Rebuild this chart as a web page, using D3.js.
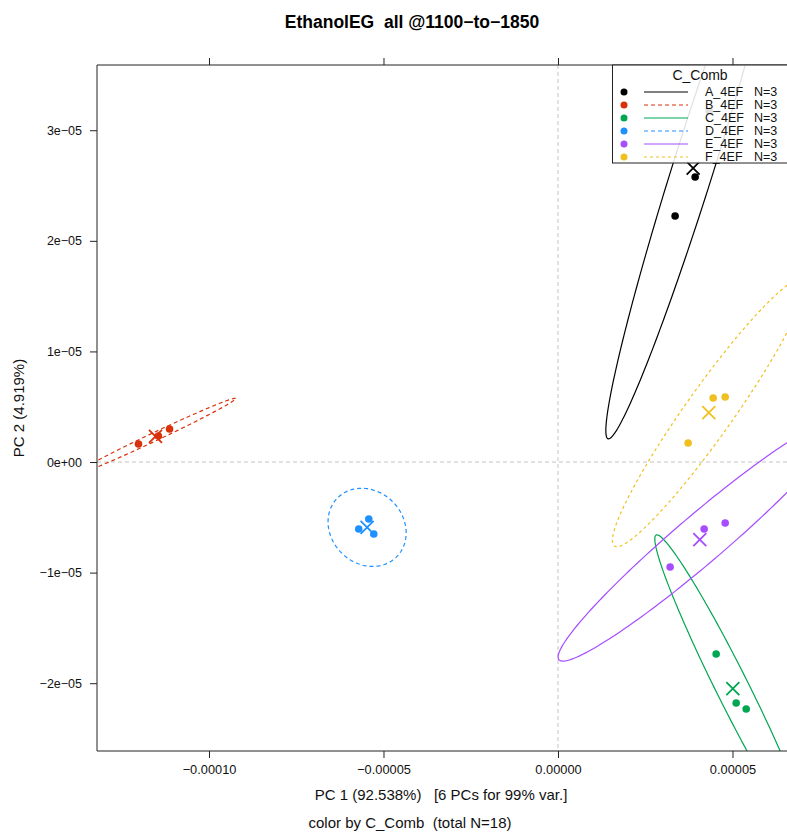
<!DOCTYPE html>
<html>
<head>
<meta charset="utf-8">
<script src="https://cdn.jsdelivr.net/npm/d3@7"></script>
<style>
  body { margin: 0; background: #fff; }
  svg { font-family: "Liberation Sans", Arial, sans-serif; }
</style>
</head>
<body>
<div id="chart"></div>
<script>
// groups and scores (PC1, PC2)
const groups = ["A_4EF", "B_4EF", "C_4EF", "D_4EF", "E_4EF", "F_4EF"];
const groupColors = ["#000000", "#d9310b", "#00a651", "#1e90ff", "#a64dff", "#f0c020"];
const groupDash = [null, "4,3", null, "4,3", null, "3,3"];
const pc1 = [
    [3.930e-5, 3.356e-5, 4.332e-5],
    [-12.02e-5, -11.45e-5, -11.13e-5],
    [4.532e-5, 5.106e-5, 5.393e-5],
    [-5.709e-5, -5.422e-5, -5.278e-5],
    [4.188e-5, 4.791e-5, 3.213e-5],
    [4.446e-5, 4.791e-5, 3.729e-5]
];
const pc2 = [
    [2.577e-5, 2.224e-5, 3.174e-5],
    [0.163e-5, 0.235e-5, 0.298e-5],
    [-1.736e-5, -2.179e-5, -2.233e-5],
    [-0.606e-5, -0.515e-5, -0.651e-5],
    [-0.606e-5, -0.552e-5, -0.949e-5],
    [0.579e-5, 0.588e-5, 0.172e-5]
];
const xTicks = [-0.0001, -0.00005, 0, 0.00005];
const xTickLabels = ["\u22120.00010", "\u22120.00005", "0.00000", "0.00005"];
const yTicks = [-2e-5, -1e-5, 0, 1e-5, 2e-5, 3e-5];
const yTickLabels = ["\u22122e\u221205", "\u22121e\u221205", "0e+00", "1e\u221205", "2e\u221205", "3e\u221205"];
const xRange = [-13.209e-5, 6.648e-5];
const yRange = [-2.613e-5, 3.590e-5];
const ellipseScale = 5.1;

const W = 787, H = 834;
const margin = { top: 65, left: 97 };
const width = 693, height = 686;

const svg = d3.select("#chart").append("svg")
    .attr("width", W).attr("height", H);

const x = d3.scaleLinear().domain(xRange).range([margin.left, margin.left + width]);
const y = d3.scaleLinear().domain(yRange).range([margin.top + height, margin.top]);

svg.append("clipPath").attr("id", "clip")
    .append("rect")
    .attr("x", margin.left).attr("y", margin.top)
    .attr("width", width).attr("height", height);

const plot = svg.append("g").attr("clip-path", "url(#clip)");

// zero reference lines
plot.append("line")
    .attr("x1", x(0)).attr("x2", x(0))
    .attr("y1", margin.top).attr("y2", margin.top + height)
    .attr("stroke", "#c4c4c4").attr("stroke-dasharray", "4,3");
plot.append("line")
    .attr("x1", margin.left).attr("x2", margin.left + width)
    .attr("y1", y(0)).attr("y2", y(0))
    .attr("stroke", "#c4c4c4").attr("stroke-dasharray", "4,3");

// data ellipse from the covariance of each group
function ellipsePath(xs, ys) {
    const n = xs.length;
    const mx = d3.mean(xs), my = d3.mean(ys);
    let sxx = 0, syy = 0, sxy = 0;
    for (let i = 0; i < n; i++) {
        sxx += (xs[i] - mx) ** 2;
        syy += (ys[i] - my) ** 2;
        sxy += (xs[i] - mx) * (ys[i] - my);
    }
    sxx /= n - 1; syy /= n - 1; sxy /= n - 1;
    // cholesky factor of the covariance
    const l11 = Math.sqrt(sxx);
    const l21 = sxy / l11;
    const l22 = Math.sqrt(Math.max(syy - l21 * l21, 0));
    const pts = d3.range(0, 361, 2).map(a => {
        const t = a * Math.PI / 180;
        const u = Math.cos(t) * ellipseScale, v = Math.sin(t) * ellipseScale;
        return [x(mx + l11 * u), y(my + l21 * u + l22 * v)];
    });
    return d3.line()(pts) + "Z";
}

groups.forEach((g, i) => {
    plot.append("path")
        .attr("d", ellipsePath(pc1[i], pc2[i]))
        .attr("fill", "none")
        .attr("stroke", groupColors[i])
        .attr("stroke-width", 1.2)
        .attr("stroke-dasharray", groupDash[i]);
});

groups.forEach((g, i) => {
    const pts = pc1[i].map((v, j) => [v, pc2[i][j]]);
    plot.selectAll(null).data(pts).enter().append("circle")
        .attr("cx", d => x(d[0])).attr("cy", d => y(d[1]))
        .attr("r", 3.8).attr("fill", groupColors[i]);
    const cx = x(d3.mean(pc1[i])), cy = y(d3.mean(pc2[i]));
    const s = 6.5;
    plot.append("path")
        .attr("d", `M${cx - s},${cy - s}L${cx + s},${cy + s}M${cx - s},${cy + s}L${cx + s},${cy - s}`)
        .attr("stroke", groupColors[i]).attr("stroke-width", 1.8).attr("fill", "none");
});

// frame
const frame = svg.append("g").attr("stroke", "#222").attr("fill", "none");
frame.append("line").attr("x1", margin.left).attr("x2", margin.left + width)
    .attr("y1", margin.top).attr("y2", margin.top);
frame.append("line").attr("x1", margin.left).attr("x2", margin.left + width)
    .attr("y1", margin.top + height).attr("y2", margin.top + height);
frame.append("line").attr("x1", margin.left).attr("x2", margin.left)
    .attr("y1", margin.top).attr("y2", margin.top + height);

// axes
svg.append("g")
    .attr("transform", `translate(0,${margin.top + height})`)
    .call(d3.axisBottom(x).tickValues(xTicks).tickFormat((d, i) => xTickLabels[i]).tickSize(7).tickPadding(7))
    .call(g => g.select(".domain").remove())
    .call(g => g.selectAll("text").attr("font-size", 12.8).attr("fill", "#111").attr("font-family", null))
    .call(g => g.selectAll("line").attr("stroke", "#222"));

svg.append("g")
    .attr("transform", `translate(0,${margin.top})`)
    .call(d3.axisTop(x).tickValues(xTicks).tickFormat("").tickSize(7))
    .call(g => g.select(".domain").remove())
    .call(g => g.selectAll("line").attr("stroke", "#222"));

svg.append("g")
    .attr("transform", `translate(${margin.left},0)`)
    .call(d3.axisLeft(y).tickValues(yTicks).tickFormat((d, i) => yTickLabels[i]).tickSize(7).tickPadding(8))
    .call(g => g.select(".domain").remove())
    .call(g => g.selectAll("text").attr("font-size", 12.5).attr("fill", "#111").attr("font-family", null))
    .call(g => g.selectAll("line").attr("stroke", "#222"));

// legend
const lg = svg.append("g");
lg.append("rect")
    .attr("x", 612.5).attr("y", margin.top).attr("width", 200).attr("height", 98)
    .attr("fill", "#fff").attr("fill-opacity", 0.88)
    .attr("stroke", "#222");
lg.append("text").attr("x", 700).attr("y", 79.5)
    .attr("text-anchor", "middle").attr("font-size", 14).attr("fill", "#111")
    .text("C_Comb");
groups.forEach((g, i) => {
    const ry = 92 + i * 13;
    lg.append("circle").attr("cx", 624).attr("cy", ry).attr("r", 3.5).attr("fill", groupColors[i]);
    lg.append("line").attr("x1", 644).attr("x2", 688).attr("y1", ry).attr("y2", ry)
        .attr("stroke", groupColors[i]).attr("stroke-dasharray", groupDash[i]);
    lg.append("text").attr("x", 705).attr("y", ry + 4.3).attr("font-size", 12.5).attr("fill", "#111")
        .text(g);
    lg.append("text").attr("x", 754).attr("y", ry + 4.3).attr("font-size", 12.5).attr("fill", "#111")
        .text("N=" + pc1[i].length);
});

// titles
svg.append("text").attr("x", 412).attr("y", 28)
    .attr("text-anchor", "middle").attr("font-size", 17.5).attr("font-weight", "bold")
    .style("white-space", "pre")
    .text("EthanolEG  all @1100\u2212to\u22121850");
svg.append("text").attr("x", 441).attr("y", 800)
    .attr("text-anchor", "middle").attr("font-size", 15).attr("fill", "#111")
    .style("white-space", "pre")
    .text("PC 1 (92.538%)   [6 PCs for 99% var.]");
svg.append("text").attr("x", 410).attr("y", 828)
    .attr("text-anchor", "middle").attr("font-size", 15).attr("fill", "#111")
    .style("white-space", "pre")
    .text("color by C_Comb  (total N=" + d3.sum(pc1, d => d.length) + ")");
svg.append("text")
    .attr("transform", `translate(24,${margin.top + height / 2}) rotate(-90)`)
    .attr("text-anchor", "middle").attr("font-size", 15).attr("fill", "#111")
    .text("PC 2 (4.919%)");
</script>
</body>
</html>
